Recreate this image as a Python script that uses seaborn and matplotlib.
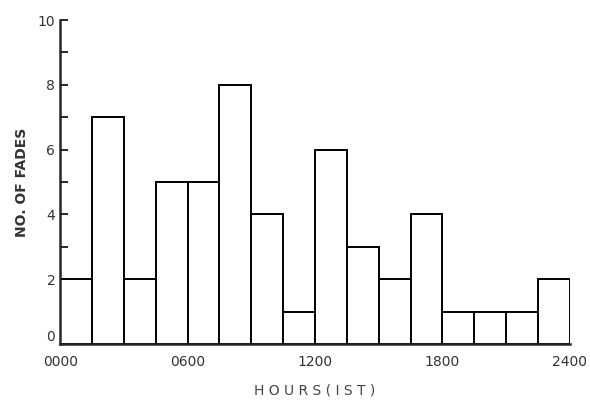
import numpy as np
import pandas as pd
import matplotlib
matplotlib.use("Agg")
import matplotlib.pyplot as plt
import seaborn as sns

# fades per 1.5 h interval, 0000-2400 IST
bin_start = [0.0, 1.5, 3.0, 4.5, 6.0, 7.5, 9.0, 10.5, 12.0, 13.5, 15.0, 16.5, 18.0, 19.5, 21.0, 22.5]
fades = [2, 7, 2, 5, 5, 8, 4, 1, 6, 3, 2, 4, 1, 1, 1, 2]
bin_width = 1.5
xticks = [0, 6, 12, 18, 24]
xticklabels = ["0000", "0600", "1200", "1800", "2400"]

df = pd.DataFrame({"hour": np.array(bin_start) + bin_width / 2, "fades": fades})

sns.set_style("ticks")
plt.rcParams['font.family'] = ['DejaVu Sans']

fig = plt.figure(figsize=(5.9, 4.0), dpi=100)
ax = fig.add_axes([0.102, 0.14, 0.864, 0.81])
sns.histplot(data=df, x="hour", weights="fades", binwidth=bin_width, binrange=(0, 24), ax=ax,
             color="white", edgecolor="black", linewidth=1.4, alpha=1)

ax.set_xlim(0, 24)
ax.set_ylim(0, 10)
ax.set_xticks(xticks)
ax.set_xticklabels(xticklabels, fontsize=10, color="#333333")
ax.set_yticks([0, 2, 4, 6, 8, 10])
ax.set_yticks([1, 3, 5, 7, 9], minor=True)
ax.tick_params(axis='y', which='both', direction='in', length=6, width=1.4, labelsize=10)
ax.tick_params(axis='x', length=0, pad=8)
for lab in ax.get_yticklabels():
    lab.set_color("#333333")
# lift the "0" a little so it clears the "0000" below it
ax.get_yticklabels()[0].set_verticalalignment('bottom')

sns.despine(ax=ax)
ax.spines['left'].set_linewidth(1.8)
ax.spines['bottom'].set_linewidth(1.8)

ax.set_xlabel("H O U R S ( I S T )", fontsize=10, color="#444444", labelpad=10)
ax.set_ylabel("NO. OF FADES", fontsize=10, fontweight='bold', color="#333333", labelpad=6)

fig.savefig("out.png", dpi=100)
plt.close(fig)
